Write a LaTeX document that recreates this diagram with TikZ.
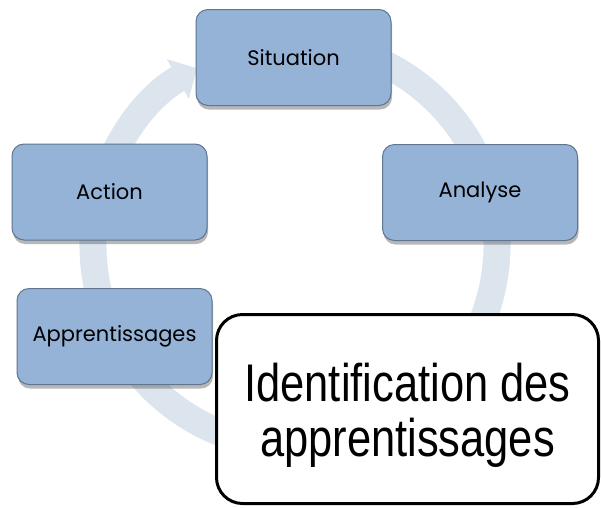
\documentclass[tikz,border=0pt]{standalone}
\usepackage{fontspec}
\setmainfont{Poppins}
\newfontfamily\narrowfont[FakeStretch=0.82]{Liberation Sans}
\usetikzlibrary{arrows.meta,shadows}
\definecolor{stageblue}{HTML}{95B3D7}
\definecolor{stageedge}{HTML}{5F7590}
\definecolor{ringblue}{HTML}{DCE4EE}
\tikzset{stage/.style={draw=stageedge,fill=stageblue,line width=1pt,
    rounded corners=12pt,minimum width=195pt,minimum height=96pt,
    font=\fontsize{21}{24}\selectfont,
    drop shadow={shadow xshift=1pt,shadow yshift=-4pt,opacity=0.4,fill=black!70}},
    note/.style={draw,fill=white,line width=3pt,rounded corners=26pt,
    minimum width=382pt,minimum height=189pt,align=center,
    font=\narrowfont\fontsize{53}{55}\selectfont},
    ringarrow/.style={draw=ringblue,line width=27pt,
    -{Triangle[width=44pt,length=22pt]}}}
\begin{document}
\begin{tikzpicture}[x=1pt,y=-1pt]
\useasboundingbox (0,0) rectangle (601,507);
\coordinate (hub) at (295,245);
\draw[ringarrow] (hub) ++(-80:202) arc[start angle=-80,end angle=241,radius=202];
\node[stage] (situation) at (293.5,57.5) {Situation};
\node[stage] (analyse) at (480,192.5) {Analyse};
\node[stage] (action) at (109.5,192) {Action};
\node[stage] (apprent) at (114.5,336.5) {Apprentissages};
\node[note] (ident) at (407.5,409) {\rule{0pt}{50pt}Identification des\\apprentissages};
\end{tikzpicture}
\end{document}
